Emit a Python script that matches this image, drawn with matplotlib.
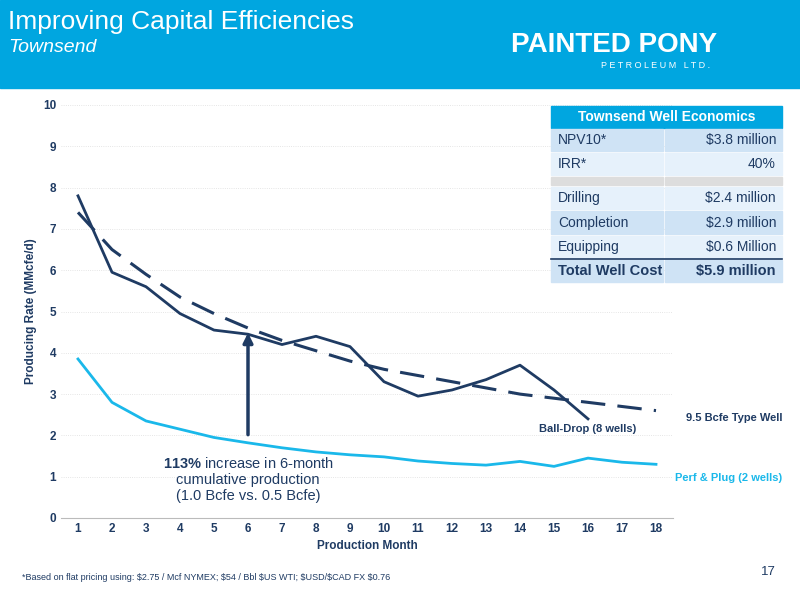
import matplotlib
matplotlib.use("Agg")
import matplotlib.pyplot as plt
from matplotlib.patches import Rectangle

plt.rcParams['font.family'] = ['Liberation Sans', 'DejaVu Sans']
plt.rcParams['mathtext.fontset'] = 'custom'
plt.rcParams['mathtext.rm'] = 'Liberation Sans'
plt.rcParams['mathtext.bf'] = 'Liberation Sans:bold'

months = list(range(1, 19))
ball_drop = [7.8, 5.95, 5.6, 4.95, 4.55, 4.45, 4.2, 4.4, 4.15, 3.3, 2.95, 3.1, 3.35, 3.7, 3.1, 2.4]
type_well = [7.4, 6.5, 5.9, 5.35, 4.95, 4.6, 4.3, 4.05, 3.8, 3.6, 3.45, 3.3, 3.15, 3.0, 2.9, 2.8, 2.7, 2.6]
perf_plug = [3.85, 2.8, 2.35, 2.15, 1.95, 1.82, 1.7, 1.6, 1.53, 1.48, 1.38, 1.32, 1.28, 1.37, 1.25, 1.45, 1.35, 1.3]
table_rows = [("NPV10*", "$3.8 million"), ("IRR*", "40%"), ("", ""), ("Drilling", "$2.4 million"),
              ("Completion", "$2.9 million"), ("Equipping", "$0.6 Million"), ("Total Well Cost", "$5.9 million")]

NAVY = "#1f3b63"
CYAN = "#1ab8ea"
BLUE = "#00a6e0"
fig = plt.figure(figsize=(8, 6), dpi=100)
W, H = 800, 600
def fx(x): return x / W
def fy(y): return 1 - y / H

fig.patches.append(Rectangle((0, fy(88)), 1, 88 / H, transform=fig.transFigure, color=BLUE, zorder=0))
fig.text(fx(8), fy(22), "Improving Capital Efficiencies", color="white", fontsize=19, va="center")
fig.text(fx(8), fy(47), "Townsend", color="white", fontsize=14, style="italic", va="center")
fig.text(fx(614), fy(45), "PAINTED PONY", color="white", fontsize=20, weight="bold", ha="center", va="center")
fig.text(fx(710), fy(65), "P E T R O L E U M   L T D .", color="white", fontsize=6.5, ha="right", va="center")

ax = fig.add_axes([fx(61), fy(518), (673 - 61) / W, (518 - 105) / H])
ax.plot(months[:len(ball_drop)], ball_drop, color=NAVY, lw=2)
ax.plot(months, type_well, color=NAVY, lw=2.2, dashes=(8, 4))
ax.plot(months, perf_plug, color=CYAN, lw=2)
ax.set_xlim(0.5, 18.5)
ax.set_ylim(0, 10)
ax.set_xticks(months)
ax.set_yticks(range(11))
ax.tick_params(colors=NAVY, labelsize=8.5, length=0)
for t in ax.get_xticklabels() + ax.get_yticklabels():
    t.set_fontweight("bold")
ax.grid(axis="y", color="#dddddd", lw=0.6, ls=":")
for s in ["top", "right", "left"]:
    ax.spines[s].set_visible(False)
ax.spines["bottom"].set_color("#bbbbbb")
ax.set_xlabel("Production Month", color=NAVY, fontsize=8.5, weight="bold")
ax.set_ylabel("Producing Rate (MMcfe/d)", color=NAVY, fontsize=8.5, weight="bold")
ax.annotate("", xy=(6, 4.55), xytext=(6, 1.95),
            arrowprops=dict(arrowstyle="-|>", color=NAVY, lw=2.5, mutation_scale=14))
ax.text(6, 0.93, "$\\bf{113\\%}$ increase in 6-month\ncumulative production\n(1.0 Bcfe vs. 0.5 Bcfe)",
        ha="center", va="center", fontsize=10.5, color=NAVY, linespacing=1.2)
ax.text(16, 2.15, "Ball-Drop (8 wells)", ha="center", va="center", fontsize=8, color=NAVY, weight="bold")
fig.text(fx(782), fy(418), "9.5 Bcfe Type Well", ha="right", va="center", fontsize=8, color=NAVY, weight="bold")
fig.text(fx(782), fy(478), "Perf & Plug (2 wells)", ha="right", va="center", fontsize=8, color=CYAN, weight="bold")

# table
x0, x1, xm = 551, 782, 664
fig.patches.append(Rectangle((fx(x0), fy(128)), (x1 - x0) / W, 22 / H, transform=fig.transFigure, color=BLUE))
fig.text(fx((x0 + x1) / 2), fy(117), "Townsend Well Economics", color="white", fontsize=10, weight="bold", ha="center", va="center")
ys = [128, 152, 176, 186, 210, 235, 259, 283]
for i, (a, b) in enumerate(table_rows):
    top, bot = ys[i], ys[i + 1]
    col = "#dddddd" if a == "" else ("#cfe3f5" if i % 2 == 0 else "#e6f1fb")
    for (l, r) in [(x0, xm - 1), (xm + 1, x1)]:
        fig.patches.append(Rectangle((fx(l), fy(bot - 1)), (r - l) / W, (bot - top - 2) / H, transform=fig.transFigure, color=col))
    if a:
        bold = "bold" if i == 6 else "normal"
        fs = 10.5 if i == 6 else 10
        fig.text(fx(558), fy((top + bot) / 2), a, color=NAVY, fontsize=fs, weight=bold, va="center")
        fig.text(fx(776), fy((top + bot) / 2), b, color=NAVY, fontsize=fs, weight=bold, va="center", ha="right")
fig.lines.append(plt.Line2D([fx(x0), fx(x1)], [fy(259), fy(259)], transform=fig.transFigure, color=NAVY, lw=1.2))

fig.text(fx(22), fy(578), r"*Based on flat pricing using: \$2.75 / Mcf NYMEX; \$54 / Bbl \$US WTI; \$USD/\$CAD FX \$0.76",
         fontsize=6.5, color=NAVY, va="center")
fig.text(fx(776), fy(572), "17", fontsize=9.5, color=NAVY, ha="right", va="center")
fig.savefig("out.png", dpi=100)
